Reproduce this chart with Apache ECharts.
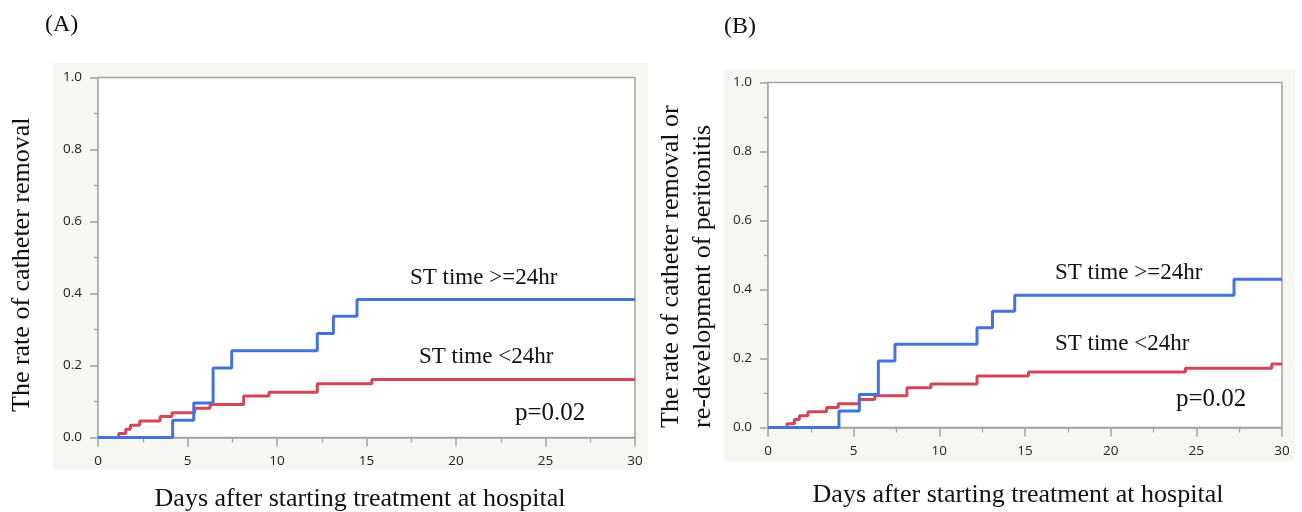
<!DOCTYPE html>
<html>
<head>
<meta charset="utf-8">
<script src="https://cdn.jsdelivr.net/npm/echarts@6/dist/echarts.min.js"></script>
<style>
html,body{margin:0;padding:0;background:#fff;}
#c{width:1302px;height:512px;}
</style>
</head>
<body>
<div id="c"></div>
<script>
// ---- Data ----
// Panel A: catheter removal
const aHighTimes = [0, 4.17, 5.35, 6.43, 7.47, 12.25, 13.15, 14.47, 30];
const aHighVals  = [0, 0.048, 0.096, 0.193, 0.241, 0.289, 0.337, 0.383, 0.383];
const aLowTimes  = [0, 1.16, 1.55, 1.81, 2.33, 3.47, 4.13, 5.40, 6.26, 8.14, 9.55, 12.25, 15.3, 30];
const aLowVals   = [0, 0.011, 0.023, 0.034, 0.046, 0.058, 0.069, 0.081, 0.092, 0.115, 0.126, 0.149, 0.161, 0.161];
// Panel B: catheter removal or re-development of peritonitis
const bHighTimes = [0, 4.14, 5.33, 6.44, 7.41, 12.2, 13.1, 14.4, 27.2, 30];
const bHighVals  = [0, 0.048, 0.096, 0.193, 0.241, 0.289, 0.337, 0.383, 0.430, 0.430];
const bLowTimes  = [0, 1.11, 1.54, 1.83, 2.33, 3.42, 4.10, 5.33, 6.23, 8.11, 9.51, 12.2, 15.2, 24.36, 29.4, 30];
const bLowVals   = [0, 0.011, 0.023, 0.034, 0.046, 0.058, 0.069, 0.081, 0.092, 0.115, 0.126, 0.149, 0.161, 0.172, 0.184, 0.184];

const xTicks = [0, 5, 10, 15, 20, 25, 30];
const yTicks = [0, 0.2, 0.4, 0.6, 0.8, 1.0];
const seriesNames = ['ST time >=24hr', 'ST time <24hr'];
const pValue = 'p=0.02';
const xTitle = 'Days after starting treatment at hospital';
const yTitleA = 'The rate of catheter removal';
const yTitleB = ['The rate of catheter removal or', 're-development of peritonitis'];

const BLUE = '#4472de';
const RED = '#d64556';
const AX = '#a3a3a3';
const PANEL = '#f6f6f2';
const SERIF = '"Liberation Serif","DejaVu Serif",serif';
const SANS = '"Open Sans","Noto Sans",sans-serif';

function pairs(t, v){ return t.map((x,i)=>[x, v[i]]); }

function xAxisCfg(gi){
  return {
    type:'value', gridIndex:gi, min:xTicks[0], max:xTicks[xTicks.length-1], interval:5,
    axisLine:{show:true, onZero:false, lineStyle:{color:AX, width:1.5}},
    axisTick:{show:true, length:9, lineStyle:{color:AX, width:1.5}},
    minorTick:{show:true, splitNumber:2, length:5, lineStyle:{color:AX, width:1.2}},
    axisLabel:{fontFamily:SANS, fontSize:13.5, color:'#222', margin:17},
    splitLine:{show:false}
  };
}
function yAxisCfg(gi){
  return {
    type:'value', gridIndex:gi, min:yTicks[0], max:yTicks[yTicks.length-1], interval:0.2,
    axisLine:{show:true, lineStyle:{color:AX, width:1.5}},
    axisTick:{show:true, length:8, lineStyle:{color:AX, width:1.5}},
    minorTick:{show:true, splitNumber:2, length:4, lineStyle:{color:AX, width:1.2}},
    axisLabel:{fontFamily:SANS, fontSize:13.5, color:'#222', margin:16,
      formatter:v=>v.toFixed(1)},
    splitLine:{show:false}
  };
}
function stepSeries(gi, name, t, v, color){
  return {
    type:'line', name:name, xAxisIndex:gi, yAxisIndex:gi, step:'end',
    data:pairs(t, v), showSymbol:false, symbol:'none',
    lineStyle:{color:color, width:3}, itemStyle:{color:color},
    silent:true, animation:false, z:3
  };
}
function txt(x, y, s, size, align, rot){
  return {
    type:'text', x:x, y:y, z:50, rotation:rot||0, silent:true,
    style:{text:s, fill:'#111', font:size+'px '+SERIF, textAlign:align||'left', textVerticalAlign:'middle'}
  };
}

const chart = echarts.init(document.getElementById('c'));
chart.setOption({
  animation:false,
  backgroundColor:'#ffffff',
  grid:[
    {left:98, top:77.5, width:537, height:360, show:true, backgroundColor:'#fff', borderColor:AX, borderWidth:1.5, z:1},
    {left:768, top:82.5, width:514, height:345, show:true, backgroundColor:'#fff', borderColor:AX, borderWidth:1.5, z:1}
  ],
  xAxis:[xAxisCfg(0), xAxisCfg(1)],
  yAxis:[yAxisCfg(0), yAxisCfg(1)],
  series:[
    stepSeries(0, seriesNames[1], aLowTimes, aLowVals, RED),
    stepSeries(0, seriesNames[0], aHighTimes, aHighVals, BLUE),
    stepSeries(1, seriesNames[1], bLowTimes, bLowVals, RED),
    stepSeries(1, seriesNames[0], bHighTimes, bHighVals, BLUE)
  ],
  graphic:[
    {type:'rect', z:-10, shape:{x:53, y:63, width:595, height:406}, style:{fill:PANEL}, silent:true},
    {type:'rect', z:-10, shape:{x:724, y:70, width:571, height:391}, style:{fill:PANEL}, silent:true},
    txt(45, 25, '(A)', 24),
    txt(724, 27, '(B)', 24),
    // axis titles
    txt(360, 499, xTitle, 26, 'center'),
    txt(1018, 495, xTitle, 26, 'center'),
    txt(22, 412, yTitleA, 26, 'left', Math.PI/2),
    txt(671, 428, yTitleB[0], 26, 'left', Math.PI/2),
    txt(703, 428, yTitleB[1], 26, 'left', Math.PI/2),
    // annotations
    txt(410, 278, seriesNames[0], 23),
    txt(419, 357, seriesNames[1], 23),
    txt(515, 413, pValue, 25),
    txt(1055, 273, seriesNames[0], 23),
    txt(1055, 344, seriesNames[1], 23),
    txt(1176, 399, pValue, 25)
  ]
});
</script>
</body>
</html>
